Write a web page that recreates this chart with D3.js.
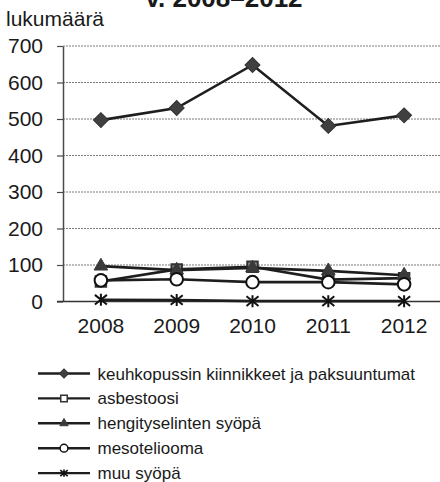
<!DOCTYPE html>
<html>
<head>
<meta charset="utf-8">
<script src="https://cdn.jsdelivr.net/npm/d3@7"></script>
<style>
  html, body { margin: 0; padding: 0; background: #fff; }
  svg { display: block; font-family: "Liberation Sans", Arial, sans-serif; }
</style>
</head>
<body>
<svg id="chart" width="440" height="482"></svg>
<script>
const years = ["2008", "2009", "2010", "2011", "2012"];
const yTicks = [0, 100, 200, 300, 400, 500, 600, 700];
const seriesNames = [
  "keuhkopussin kiinnikkeet ja paksuuntumat",
  "asbestoosi",
  "hengityselinten syöpä",
  "mesoteliooma",
  "muu syöpä"
];
const keuhkopussi = [497, 530, 648, 481, 510];
const asbestoosi = [55, 88, 95, 60, 64];
const hengitys = [97, 86, 92, 84, 72];
const mesoteliooma = [58, 61, 53, 53, 47];
const muuSyopa = [5, 4, 1, 1, 1];
const titleText = "v. 2008–2012";
const yLabel = "lukumäärä";

const seriesValues = [keuhkopussi, asbestoosi, hengitys, mesoteliooma, muuSyopa];
const markers = ["diamond", "square", "triangle", "circle", "star"];

const svg = d3.select("#chart");
const x = d3.scaleBand().domain(years).range([63, 442]).padding(0);
const y = d3.scaleLinear().domain([0, 700]).range([301.5, 46]);

// Title (mostly cut off at the top, as in the original)
svg.append("text").attr("x", 224).attr("y", 6.5).attr("text-anchor", "middle")
  .attr("font-size", 26).attr("font-weight", "bold").attr("fill", "#1a1a1a").text(titleText);

svg.append("text").attr("x", 6).attr("y", 26).attr("font-size", 21).attr("fill", "#1a1a1a").text(yLabel);

// Gridlines
svg.append("g").selectAll("line").data(yTicks.filter(d => d > 0)).join("line")
  .attr("x1", 63).attr("x2", 440)
  .attr("y1", d => y(d)).attr("y2", d => y(d))
  .attr("stroke", "#7a7a7a").attr("stroke-width", 1).attr("stroke-dasharray", "2,1");

// Y axis
const yAxis = d3.axisLeft(y).tickValues(yTicks).tickSize(6).tickPadding(14).tickSizeOuter(0);
const gy = svg.append("g").attr("transform", "translate(63,0)").call(yAxis);
gy.select(".domain").attr("stroke", "#4a4a4a").attr("stroke-width", 1.5);
gy.selectAll(".tick line").attr("stroke", "#4a4a4a").attr("stroke-width", 1.2);
gy.selectAll(".tick text").attr("font-size", 21).attr("fill", "#1a1a1a")
  .attr("font-family", "Liberation Sans, Arial, sans-serif");

// X axis
const xAxis = d3.axisBottom(x).tickSize(0).tickPadding(17);
const gx = svg.append("g").attr("transform", `translate(0,${y(0)})`).call(xAxis);
gx.select(".domain").remove();
svg.append("line").attr("x1", 57).attr("x2", 440).attr("y1", y(0)).attr("y2", y(0))
  .attr("stroke", "#333").attr("stroke-width", 1.5);
gx.selectAll(".tick text").attr("font-size", 21).attr("fill", "#1a1a1a")
  .attr("font-family", "Liberation Sans, Arial, sans-serif");

function drawMarker(g, type, cx, cy, scale) {
  const s = scale;
  if (type === "diamond") {
    g.append("path").attr("d", d3.symbol(d3.symbolSquare, 112 * s * s)())
      .attr("transform", `translate(${cx},${cy}) rotate(45)`)
      .attr("fill", "#404040").attr("stroke", "#333").attr("stroke-width", 1);
  } else if (type === "square") {
    g.append("path").attr("d", d3.symbol(d3.symbolSquare, 110 * s * s)())
      .attr("transform", `translate(${cx},${cy})`)
      .attr("fill", s < 1 ? "#fff" : "#8a8a8a").attr("stroke", "#333").attr("stroke-width", s < 1 ? 1.5 : 2);
  } else if (type === "triangle") {
    g.append("path").attr("d", d3.symbol(d3.symbolTriangle, 80 * s * s)())
      .attr("transform", `translate(${cx},${cy})`)
      .attr("fill", "#3a3a3a").attr("stroke", "#3a3a3a").attr("stroke-width", 1);
  } else if (type === "circle") {
    g.append("circle").attr("cx", cx).attr("cy", cy).attr("r", 6.3 * s)
      .attr("fill", "#fff").attr("stroke", "#111").attr("stroke-width", s < 1 ? 1.5 : 2);
  } else if (type === "star") {
    const r = 6 * s;
    const p = d3.path();
    p.moveTo(cx - r, cy - r * 0.8); p.lineTo(cx + r, cy + r * 0.8);
    p.moveTo(cx - r, cy + r * 0.8); p.lineTo(cx + r, cy - r * 0.8);
    p.moveTo(cx, cy - r); p.lineTo(cx, cy + r);
    g.append("path").attr("d", p.toString()).attr("stroke", "#111").attr("stroke-width", s < 1 ? 1.6 : 2).attr("fill", "none");
  }
}

const line = d3.line().x((d, i) => x(years[i]) + x.bandwidth() / 2).y(d => y(d));

seriesValues.forEach((vals, si) => {
  const g = svg.append("g");
  g.append("path").datum(vals).attr("d", line)
    .attr("fill", "none").attr("stroke", "#1e1e1e").attr("stroke-width", 2.6);
  vals.forEach((v, i) => drawMarker(g, markers[si], x(years[i]) + x.bandwidth() / 2, y(v), 1));
});

// Legend
const leg = svg.append("g");
seriesNames.forEach((name, i) => {
  const ly = 373.5 + i * 24.9;
  leg.append("line").attr("x1", 38).attr("x2", 90).attr("y1", ly).attr("y2", ly)
    .attr("stroke", "#1e1e1e").attr("stroke-width", 2.4);
  drawMarker(leg, markers[i], 64, ly, 0.62);
  leg.append("text").attr("x", 97.5).attr("y", ly + 6).attr("font-size", 17)
    .attr("fill", "#1a1a1a").text(name);
});
</script>
</body>
</html>
